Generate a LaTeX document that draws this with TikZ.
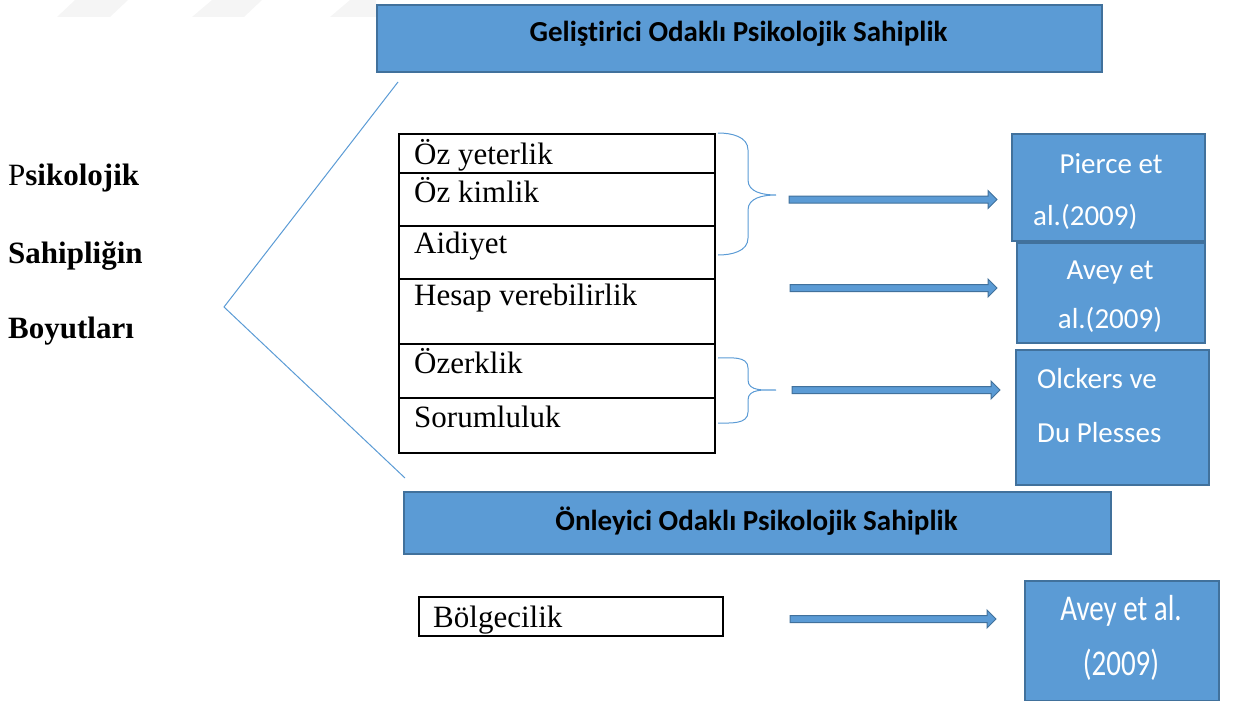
\documentclass[tikz,border=0pt]{standalone}
\usepackage{fontspec}
\setmainfont{Liberation Serif}
\newfontfamily\calibri[Ligatures=NoCommon]{Carlito}
\usetikzlibrary{positioning, calc}
\definecolor{boxfill}{HTML}{5B9BD5}
\definecolor{boxline}{HTML}{41719C}
\newcommand{\blockarrow}[2]{%
  \filldraw[arrowbody] let \p1=(#1), \p2=(#2) in
    (\x1,\y1+3.5pt) -- (\x2-9pt,\y1+3.5pt) -- (\x2-9pt,\y1+9pt) -- (\x2,\y1)
    -- (\x2-9pt,\y1-9pt) -- (\x2-9pt,\y1-3.5pt) -- (\x1,\y1-3.5pt) -- cycle;}

\begin{document}
\begin{tikzpicture}[x=1pt,y=-1pt]
  \tikzset{
    bluebox/.style={
      draw=boxline,
      line width=2pt,
      fill=boxfill,
      anchor=north west,
      inner sep=0pt
    },
    cell/.style={
      draw=black,
      line width=1.6pt,
      anchor=north west,
      minimum width=316pt,
      inner sep=0pt
    },
    itemtext/.style={
      anchor=base west,
      inner sep=0pt,
      font=\fontsize{31}{31}\selectfont
    },
    headtext/.style={
      anchor=base,
      inner sep=0pt,
      font=\calibri\bfseries\fontsize{29}{29}\selectfont
    },
    reftext/.style={
      inner sep=0pt,
      text=white,
      font=\calibri\fontsize{29}{29}\selectfont
    },
    brace/.style={
      draw=boxfill,
      line width=1pt
    },
    arrowbody/.style={
      fill=boxfill,
      draw=boxline,
      line width=1pt
    }
  }
  \useasboundingbox (0,0) rectangle (1234,701);

  % Faint marks along the top edge
  \fill[gray!8] (75,0) -- (128,0) -- (110,17) -- (57,17) -- cycle;
  \fill[gray!8] (212,0) -- (262,0) -- (244,17) -- (192,17) -- cycle;
  \fill[gray!8] (350,0) -- (376,0) -- (376,17) -- (330,17) -- cycle;

  % Headings
  \node[bluebox, minimum width=725pt, minimum height=67pt] (gelbox) at (376,4) {};
  \node[headtext] (geltext) at (738.5,42) {Geliştirici Odaklı Psikolojik Sahiplik};
  \node[bluebox, minimum width=707pt, minimum height=62pt] (onlbox) at (403,491) {};
  \node[headtext] (onltext) at (756.5,530) {Önleyici Odaklı Psikolojik Sahiplik};

  % Left title
  \node[itemtext, font=\bfseries\fontsize{31}{31}\selectfont] (title1) at (8,185) {\textmd{P}sikolojik};
  \node[itemtext, font=\bfseries\fontsize{31}{31}\selectfont] (title2) at (8,263) {Sahipliğin};
  \node[itemtext, font=\bfseries\fontsize{31}{31}\selectfont] (title3) at (8,338) {Boyutları};

  % Angle lines
  \coordinate (angtop) at (398,82);
  \coordinate (angmid) at (224,307);
  \coordinate (angbot) at (405,478);
  \draw[brace] (angtop) -- (angmid) -- (angbot);

  % Dimension cells
  \node[cell, minimum height=39pt] (row1) at (398,133) {};
  \node[cell, minimum height=53pt] (row2) at (398,172) {};
  \node[cell, minimum height=53pt] (row3) at (398,225) {};
  \node[cell, minimum height=65pt] (row4) at (398,278) {};
  \node[cell, minimum height=54pt] (row5) at (398,343) {};
  \node[cell, minimum height=55pt] (row6) at (398,397) {};
  \node[itemtext] (item1) at (414,164) {Öz yeterlik};
  \node[itemtext] (item2) at (414,202) {Öz kimlik};
  \node[itemtext] (item3) at (414,253) {Aidiyet};
  \node[itemtext] (item4) at (414,305) {Hesap verebilirlik};
  \node[itemtext] (item5) at (414,373) {Özerklik};
  \node[itemtext] (item6) at (414,427) {Sorumluluk};

  \node[cell, minimum width=304pt, minimum height=39pt] (row7) at (418,596) {};
  \node[itemtext] (item7) at (433,627) {Bölgecilik};

  % Braces
  \draw[brace] (718,133) to[out=0,in=90] (748,150) -- (748,180)
    to[out=-90,in=180] (776,195) to[out=180,in=90] (748,210) -- (748,238)
    to[out=-90,in=0] (718,255);
  \draw[brace] (718,358) to[out=0,in=90] (748,368) -- (748,380)
    to[out=-90,in=180] (776,390) to[out=180,in=90] (748,400) -- (748,412)
    to[out=-90,in=0] (718,423);

  % Arrows
  \coordinate (arr1s) at (789,199.5);
  \coordinate (arr1e) at (997,199.5);
  \coordinate (arr2s) at (790,288);
  \coordinate (arr2e) at (997,288);
  \coordinate (arr3s) at (792,390);
  \coordinate (arr3e) at (1000,390);
  \coordinate (arr4s) at (790,619);
  \coordinate (arr4e) at (996,619);
  \blockarrow{arr1s}{arr1e}
  \blockarrow{arr2s}{arr2e}
  \blockarrow{arr3s}{arr3e}
  \blockarrow{arr4s}{arr4e}

  % Sources
  \node[bluebox, minimum width=193pt, minimum height=107pt] (pierce) at (1011,133) {};
  \node[reftext, anchor=base] (pierce1) at (1111,173) {Pierce et};
  \node[reftext, anchor=base west] (pierce2) at (1033,225) {al.(2009)};

  \node[bluebox, minimum width=188pt, minimum height=100pt] (avey) at (1016,242) {};
  \node[reftext, anchor=base] (avey1) at (1110,279) {Avey et};
  \node[reftext, anchor=base] (avey2) at (1110,328) {al.(2009)};

  \node[bluebox, minimum width=193pt, minimum height=135pt] (olckers) at (1015,349) {};
  \node[reftext, anchor=base west] (olckers1) at (1037,388) {Olckers ve};
  \node[reftext, anchor=base west] (olckers2) at (1037,442) {Du Plesses};

  \node[bluebox, minimum width=194pt, minimum height=120pt] (aveyb) at (1024,580) {};
  \node[reftext, anchor=base] (aveyb1) at (1121,620) {\scalebox{1}[1.25]{Avey et al.}};
  \node[reftext, anchor=base] (aveyb2) at (1121,675) {\scalebox{1}[1.25]{(2009)}};

\end{tikzpicture}
\end{document}
